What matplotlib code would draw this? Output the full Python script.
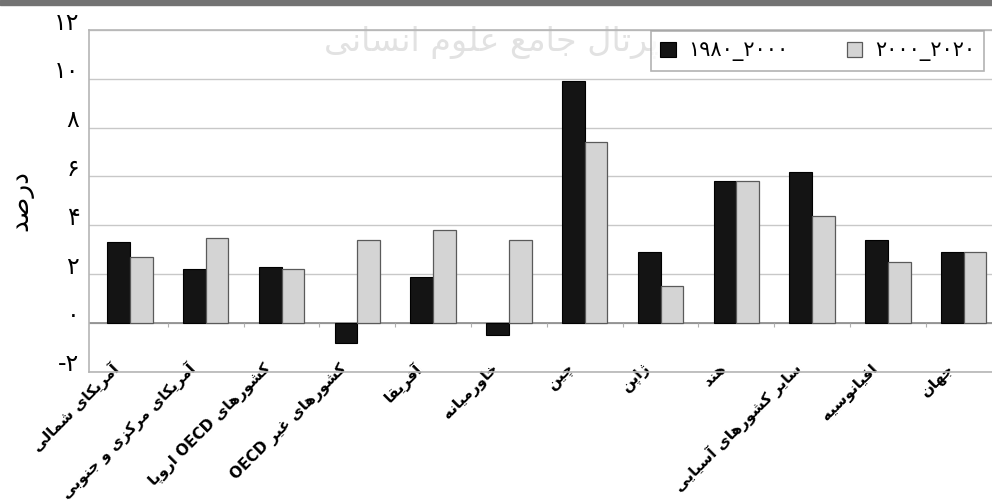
import matplotlib
matplotlib.use('Agg')
import matplotlib.pyplot as plt
import numpy as np
from matplotlib.patches import Rectangle
from matplotlib.transforms import ScaledTranslation

# داده‌ها (خوانده شده از تصویر)
categories = ['آمریکای شمالی', 'آمریکای مرکزی و جنوبی', 'کشورهای OECD اروپا',
              'کشورهای غیر OECD', 'آفریقا', 'خاورمیانه', 'چین', 'ژاپن', 'هند',
              'سایر کشورهای آسیایی', 'اقیانوسیه', 'جهان']
growth_1980_2000 = [3.3, 2.2, 2.3, -0.8, 1.9, -0.5, 9.9, 2.9, 5.8, 6.2, 3.4, 2.9]
growth_2000_2020 = [2.7, 3.5, 2.2, 3.4, 3.8, 3.4, 7.4, 1.5, 5.8, 4.4, 2.5, 2.9]
series_labels = ['۱۹۸۰_۲۰۰۰', '۲۰۰۰_۲۰۲۰']
y_ticks = [-2, 0, 2, 4, 6, 8, 10, 12]
y_tick_labels = ['-۲', '۰', '۲', '۴', '۶', '۸', '۱۰', '۱۲']
y_label = 'درصد'
watermark = 'پرتال جامع علوم انسانی'

# شکل‌دهی ساده حروف فارسی (matplotlib حروف را به هم نمی‌چسباند)
FORMS = {
    'ا': ('\uFE8D', '\uFE8E', None, None),
    'آ': ('\uFE81', '\uFE82', None, None),
    'ب': ('\uFE8F', '\uFE90', '\uFE91', '\uFE92'),
    'پ': ('\uFB56', '\uFB57', '\uFB58', '\uFB59'),
    'ت': ('\uFE95', '\uFE96', '\uFE97', '\uFE98'),
    'ج': ('\uFE9D', '\uFE9E', '\uFE9F', '\uFEA0'),
    'چ': ('\uFB7A', '\uFB7B', '\uFB7C', '\uFB7D'),
    'خ': ('\uFEA5', '\uFEA6', '\uFEA7', '\uFEA8'),
    'د': ('\uFEA9', '\uFEAA', None, None),
    'ر': ('\uFEAD', '\uFEAE', None, None),
    'ز': ('\uFEAF', '\uFEB0', None, None),
    'ژ': ('\uFB8A', '\uFB8B', None, None),
    'س': ('\uFEB1', '\uFEB2', '\uFEB3', '\uFEB4'),
    'ش': ('\uFEB5', '\uFEB6', '\uFEB7', '\uFEB8'),
    'ص': ('\uFEB9', '\uFEBA', '\uFEBB', '\uFEBC'),
    'ع': ('\uFEC9', '\uFECA', '\uFECB', '\uFECC'),
    'غ': ('\uFECD', '\uFECE', '\uFECF', '\uFED0'),
    'ف': ('\uFED1', '\uFED2', '\uFED3', '\uFED4'),
    'ق': ('\uFED5', '\uFED6', '\uFED7', '\uFED8'),
    'ک': ('\uFB8E', '\uFB8F', '\uFB90', '\uFB91'),
    'ل': ('\uFEDD', '\uFEDE', '\uFEDF', '\uFEE0'),
    'م': ('\uFEE1', '\uFEE2', '\uFEE3', '\uFEE4'),
    'ن': ('\uFEE5', '\uFEE6', '\uFEE7', '\uFEE8'),
    'ه': ('\uFEE9', '\uFEEA', '\uFEEB', '\uFEEC'),
    'و': ('\uFEED', '\uFEEE', None, None),
    'ی': ('\uFBFC', '\uFBFD', '\uFBFE', '\uFBFF'),
}


def shape_word(word):
    out = []
    for i, ch in enumerate(word):
        if ch not in FORMS:
            out.append(ch)
            continue
        iso, fin, ini, med = FORMS[ch]
        prev = word[i - 1] if i > 0 else None
        nxt = word[i + 1] if i < len(word) - 1 else None
        join_prev = prev in FORMS and FORMS[prev][2] is not None
        join_next = nxt in FORMS and ini is not None
        if join_prev and join_next:
            out.append(med)
        elif join_prev:
            out.append(fin)
        elif join_next:
            out.append(ini)
        else:
            out.append(iso)
    return ''.join(reversed(out))


def fa(text):
    words = text.split(' ')
    vis = []
    for w in reversed(words):
        vis.append(shape_word(w) if any(c in FORMS for c in w) else w)
    return ' '.join(vis)


plt.rcParams['font.family'] = ['DejaVu Sans']

fig = plt.figure(figsize=(9.92, 5.0), dpi=100)
ax = fig.add_axes([0.0897, 0.2564, 0.92, 0.6836])

# نوار خاکستری بالای تصویر
fig.patches.append(Rectangle((0, 0.99), 1, 0.01, transform=fig.transFigure,
                             color='#737373', zorder=0))
# واترمارک کم‌رنگ
ax.text(0.495, 0.915, fa(watermark), fontsize=24, color='#e2e2e2',
        ha='center', va='center', transform=fig.transFigure, zorder=1)

x = np.arange(len(categories))
w = 0.30
ax.bar(x - w / 2, growth_1980_2000, w, color='#141414', edgecolor='#000000',
       linewidth=0.8, label=series_labels[0], zorder=3)
ax.bar(x + w / 2, growth_2000_2020, w, color='#d4d4d4', edgecolor='#5a5a5a',
       linewidth=0.9, label=series_labels[1], zorder=3)

ax.set_xlim(-0.54, 11.5)
ax.set_ylim(-2, 12)
ax.set_yticks(y_ticks)
ax.set_yticklabels(y_tick_labels, fontsize=17)
ax.tick_params(axis='y', length=0, pad=7)
for lbl in ax.get_yticklabels():
    lbl.set_transform(lbl.get_transform() + ScaledTranslation(0, 0.10, fig.dpi_scale_trans))

ax.set_xticks(x - 0.17)
ax.set_xticklabels([fa(c) for c in categories], rotation=45, ha='right',
                   va='center', rotation_mode='anchor', fontsize=11,
                   fontweight='bold')
ax.tick_params(axis='x', length=0, pad=-4)

ax.grid(axis='y', color='#c8c8c8', linewidth=1.0, zorder=0)
ax.axhline(0, color='#8a8a8a', linewidth=1.2, zorder=2)
ax.vlines(x[:-1] + 0.5, -0.15, 0, color='#b0b0b0', linewidth=0.8, zorder=2)

for side in ['left', 'top', 'bottom']:
    ax.spines[side].set_color('#b5b5b5')
    ax.spines[side].set_linewidth(1.2)
ax.spines['right'].set_visible(False)

ax.set_ylabel(fa(y_label), fontsize=19, labelpad=15)

leg = ax.legend(loc='upper right', bbox_to_anchor=(0.988, 1.015), ncol=2,
                fontsize=15, frameon=True, fancybox=False, edgecolor='#a0a0a0',
                handlelength=0.75, handleheight=0.75, columnspacing=2.8,
                borderpad=0.45, borderaxespad=0.3, handletextpad=0.6)
leg.get_frame().set_linewidth(1.2)
leg.set_zorder(6)

fig.savefig('out.png', dpi=100)
